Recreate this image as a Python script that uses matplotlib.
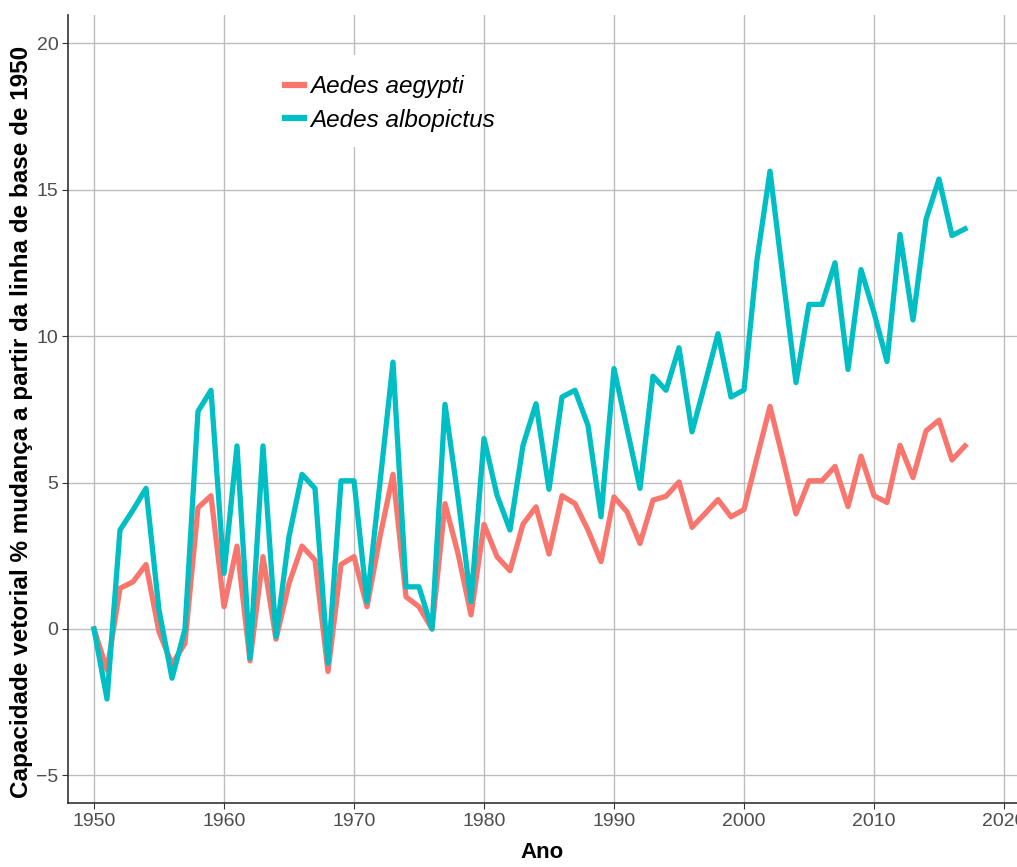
import matplotlib
matplotlib.use('Agg')
import matplotlib.pyplot as plt
from matplotlib.patches import Rectangle
import numpy as np

plt.rcParams['font.family'] = ['Liberation Sans', 'DejaVu Sans']

# DADOS
anos = np.arange(1950, 2018)

aegypti = [0.0, -1.4, 1.39, 1.61, 2.2, -0.1, -1.2, -0.49, 4.14, 4.55,
           0.76, 2.83, -1.09, 2.47, -0.35, 1.56, 2.83, 2.35, -1.45, 2.2,
           2.47, 0.76, 3.15, 5.28, 1.1, 0.76, 0.0, 4.28, 2.58, 0.48,
           3.57, 2.47, 1.99, 3.58, 4.17, 2.56, 4.55, 4.28, 3.38, 2.3,
           4.51, 4.0, 2.92, 4.4, 4.53, 5.02, 3.47, 3.94, 4.42, 3.83,
           4.08, 5.85, 7.6, 5.8, 3.93, 5.06, 5.06, 5.55, 4.18, 5.9,
           4.55, 4.32, 6.27, 5.17, 6.76, 7.13, 5.77, 6.25]

albopictus = [0.0, -2.39, 3.38, 4.06, 4.8, 0.65, -1.68, 0.0, 7.43, 8.15,
              1.9, 6.25, -1.0, 6.25, -0.26, 3.15, 5.28, 4.8, -1.17, 5.06,
              5.06, 0.93, 5.0, 9.11, 1.44, 1.44, 0.0, 7.67, 4.5, 0.93,
              6.5, 4.57, 3.38, 6.27, 7.69, 4.77, 7.92, 8.15, 6.95, 3.83,
              8.89, 6.84, 4.8, 8.63, 8.15, 9.6, 6.73, 8.38, 10.08, 7.92,
              8.16, 12.6, 15.63, 12.0, 8.41, 11.08, 11.08, 12.5, 8.86, 12.27,
              10.8, 9.13, 13.47, 10.55, 13.98, 15.36, 13.43, 13.66]

# GRAFICO
W, H = 1017, 867
fig = plt.figure(figsize=(W/100, H/100), dpi=100)
ax = fig.add_axes([68/W, 64/H, 1 - 68/W, (803 - 15)/H])

ax.plot(anos, aegypti, color='#F8766D', lw=3.8, label='Aedes aegypti', zorder=3)
ax.plot(anos, albopictus, color='#00BFC4', lw=3.8, label='Aedes albopictus', zorder=3)

ax.set_xlim(1948.0, 2021.0)
ax.set_ylim(-5.94, 20.96)
ax.set_xticks(range(1950, 2030, 10))
ax.set_yticks([-5, 0, 5, 10, 15, 20])
ax.set_yticklabels(['\u22125', '0', '5', '10', '15', '20'])

ax.grid(True, color='#bdbdbd', lw=1.0)
ax.set_axisbelow(True)
for s in ['top', 'right']:
    ax.spines[s].set_visible(False)
for s in ['left', 'bottom']:
    ax.spines[s].set_color('#333333')
    ax.spines[s].set_linewidth(1.2)
ax.tick_params(colors='#333333', labelcolor='#4d4d4d', labelsize=14, length=4, pad=3)

# titulos de eixo
fig.text(542/W, 1 - 852/H, 'Ano', fontsize=16, fontweight='bold', ha='center', va='center')
fig.text(22/W, 1 - 422/H, 'Capacidade vetorial % mudança a partir da linha de base de 1950',
         fontsize=17.5, fontweight='bold', rotation=90, ha='center', va='center')

# fundo branco da legenda
ax.add_patch(Rectangle((278/W, 1 - 147/H), 192/W, 92/H, transform=fig.transFigure,
                       facecolor='white', edgecolor='none', zorder=1.5))

leg = ax.legend(loc='center left', bbox_to_anchor=(285/W, 1 - 103.5/H),
                bbox_transform=fig.transFigure, frameon=False,
                prop={'style': 'italic', 'size': 17.5}, handlelength=0.8,
                handletextpad=0.25, labelspacing=0.45, borderpad=0, borderaxespad=0)
for h in leg.get_lines():
    h.set_linewidth(4.5)

fig.savefig('out.png', dpi=100)
